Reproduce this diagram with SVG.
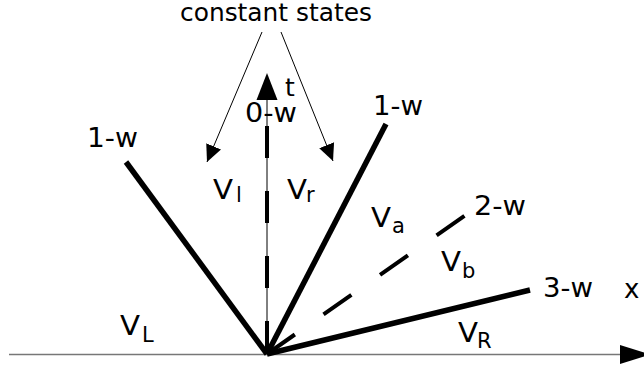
<svg xmlns="http://www.w3.org/2000/svg" width="644" height="369" viewBox="0 0 644 369">
<style>
text{font-family:"DejaVu Sans",sans-serif;font-size:26px;fill:#000}
.sub{font-size:21px}
.thick{stroke:#000;stroke-width:5.5;fill:none}
.thin{stroke:#000;stroke-width:1;fill:none}
</style>
<defs>
<marker id="ah" markerUnits="userSpaceOnUse" markerWidth="18" markerHeight="18" viewBox="0 0 18 18" refX="17" refY="9" orient="auto">
<path d="M0,1 L17,9 L0,17 Z" fill="#000"/>
</marker>
</defs>
<g id="connectors">
<line x1="9" y1="354.5" x2="622" y2="354.5" stroke="#777" stroke-width="1.5"/>
<path d="M620,345 L650,354.5 L620,364 Z" fill="#000"/>
<line x1="267" y1="354" x2="267" y2="98" class="thin"/>
<path d="M256.5,100 L267,73 L277.5,100 Z" fill="#000"/>
<line x1="267" y1="353" x2="267" y2="126" stroke="#000" stroke-width="4" stroke-dasharray="32 33"/>
<line x1="267" y1="354" x2="126" y2="162" class="thick"/>
<line x1="267" y1="354" x2="386" y2="124" class="thick"/>
<line x1="267" y1="354" x2="530" y2="290" class="thick"/>
<line x1="267" y1="354" x2="467" y2="214" stroke="#000" stroke-width="4" stroke-dasharray="34 35"/>
<line x1="262" y1="32" x2="207" y2="162" class="thin" marker-end="url(#ah)"/>
<line x1="281" y1="32" x2="333" y2="161" class="thin" marker-end="url(#ah)"/>
</g>
<g id="labels">
<text x="180" y="21" style="font-size:24px" textLength="192" lengthAdjust="spacingAndGlyphs">constant states</text>
<text x="87" y="147" textLength="51" lengthAdjust="spacingAndGlyphs">1-w</text>
<text x="245" y="122" textLength="52" lengthAdjust="spacingAndGlyphs">0-w</text>
<text x="285" y="96" style="font-size:25px">t</text>
<text x="373" y="115" textLength="50" lengthAdjust="spacingAndGlyphs">1-w</text>
<text x="474" y="215" textLength="52" lengthAdjust="spacingAndGlyphs">2-w</text>
<text x="543" y="297" textLength="50" lengthAdjust="spacingAndGlyphs">3-w</text>
<text x="624" y="298">x</text>
<text x="213" y="199" textLength="20" lengthAdjust="spacingAndGlyphs">V</text><text class="sub" x="236" y="202">l</text>
<text x="287" y="199" textLength="20" lengthAdjust="spacingAndGlyphs">V</text><text class="sub" x="306" y="202">r</text>
<text x="371" y="227" textLength="20" lengthAdjust="spacingAndGlyphs">V</text><text class="sub" x="392" y="233">a</text>
<text x="441" y="271" textLength="20" lengthAdjust="spacingAndGlyphs">V</text><text class="sub" x="462" y="278">b</text>
<text x="458" y="342" textLength="20" lengthAdjust="spacingAndGlyphs">V</text><text class="sub" x="477" y="348">R</text>
<text x="120" y="335" textLength="20" lengthAdjust="spacingAndGlyphs">V</text><text class="sub" x="142" y="342">L</text>
</g>
</svg>
